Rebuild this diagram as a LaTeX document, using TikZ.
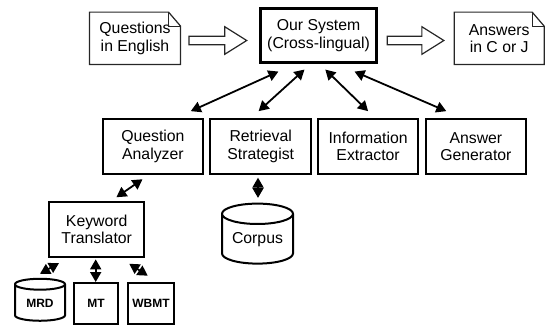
\documentclass[tikz,border=0pt]{standalone}
\usepackage{fontspec}
\setmainfont{Liberation Sans}
\usetikzlibrary{positioning,calc,shapes.geometric,arrows.meta}
\tikzset{
    box/.style={draw, line width=2pt, align=center, inner sep=0pt, minimum width=100.5pt, minimum height=54.5pt, font=\fontsize{15.8}{17.3}\selectfont},
    docnode/.style={align=center, inner sep=0pt, minimum width=90pt, minimum height=52pt, font=\fontsize{15.8}{17.3}\selectfont},
    doc/.style={draw=black!85, line width=1.2pt, line join=miter},
    drum/.style={cylinder, shape border rotate=90, draw, line width=2pt, aspect=0.4, inner sep=0pt, align=center},
    small/.style={draw, line width=2pt, inner sep=0pt, minimum width=44pt, minimum height=41pt, font=\fontsize{12}{13}\selectfont\bfseries},
    dbl/.style={{Triangle[length=10pt,width=11pt]}-{Triangle[length=10pt,width=11pt]}, line width=1.8pt},
    fat/.style={draw=black!85, line width=1.2pt, fill=white}
}
\newcommand{\fatarrow}[2]{%
    \draw[fat] let \p1=(#1), \p2=(#2) in (\x1,\y1+4.3pt) -- (\x2-22pt,\y1+4.3pt) -- (\x2-22pt,\y1+13.8pt) -- (\x2,\y1)
        -- (\x2-22pt,\y1-13.8pt) -- (\x2-22pt,\y1-4.3pt) -- (\x1,\y1-4.3pt) -- cycle;}
\newcommand{\docoutline}[1]{%
    \draw[doc] (#1.south west) -- (#1.north west) -- ([xshift=-12pt]#1.north east) -- ([yshift=-14pt]#1.north east) -- (#1.south east) -- cycle;
    \draw[doc, line width=0.7pt] ([xshift=-12pt]#1.north east) -- ([xshift=-12pt,yshift=-14pt]#1.north east) -- ([yshift=-14pt]#1.north east);}

\begin{document}
\begin{tikzpicture}[x=1pt, y=-1pt]
    \useasboundingbox (0,0) rectangle (545,327);
    % --- top row ---
    \node[docnode, minimum width=90.7pt] (qe) at (135, 38.3) {Questions\\in English};
    \node[box, line width=3pt, minimum width=115.8pt] (sys) at (318.6, 35.5) {Our System\\(Cross-lingual)};
    \node[docnode, minimum width=89.5pt] (ans) at (499.2, 38.3) {Answers\\in C or J};
    \docoutline{qe}
    \docoutline{ans}
    \fatarrow{[xshift=8.4pt,yshift=-2.2pt]qe.east}{[xshift=-12.5pt,yshift=-5pt]sys.west}
    \fatarrow{[xshift=9.3pt,yshift=-5pt]sys.east}{[xshift=-10.4pt,yshift=-2.2pt]ans.west}
    % --- modules ---
    \node[box] (qa) at (152.9, 146.4) {Question\\Analyzer};
    \node[box] (rs) at (260.7, 146.4) {Retrieval\\Strategist};
    \node[box] (ie) at (368.1, 146.4) {Information\\Extractor};
    \node[box] (ag) at (475.9, 146.4) {Answer\\Generator};
    \draw[dbl] ([xshift=-40.2pt,yshift=-7.3pt]sys.south) -- ([xshift=37.9pt,yshift=7pt]qa.north);
    \draw[dbl] ([xshift=-14.1pt,yshift=-5.3pt]sys.south) -- ([xshift=-2.1pt,yshift=7pt]rs.north);
    \draw[dbl] ([xshift=6.7pt,yshift=-5.3pt]sys.south) -- ([yshift=7pt]ie.north);
    \draw[dbl] ([xshift=35.9pt,yshift=-7.3pt]sys.south) -- ([xshift=-29.6pt,yshift=7pt]ag.north);
    % --- keyword translator and resources ---
    \node[box, minimum width=94.7pt] (kt) at (96.7, 229.5) {Keyword\\Translator};
    \node[drum, minimum width=71pt, minimum height=60pt, font=\fontsize{15.8}{17.3}\selectfont] (corpus) at (257.5, 239.2) {Corpus};
    \node[drum, minimum width=50pt, minimum height=42pt, font=\fontsize{12}{13}\selectfont\bfseries] (mrd) at (40, 303) {MRD};
    \node[small] (mt) at (96, 303.5) {MT};
    \node[small, minimum width=46pt] (wbmt) at (151, 303.5) {WBMT};
    \draw[dbl] ([xshift=-10.4pt,yshift=-4.6pt]qa.south) -- ([xshift=19.7pt,yshift=4pt]kt.north);
    \draw[dbl] ([xshift=-2.7pt,yshift=-3pt]rs.south) -- ([xshift=0.5pt,yshift=4.7pt]corpus.north);
    \draw[dbl] ([xshift=-37.7pt,yshift=-5.3pt]kt.south) -- ([yshift=4pt]mrd.north);
    \draw[dbl] ([xshift=-1pt,yshift=-1.6pt]kt.south) -- ([xshift=-0.3pt]mt.north);
    \draw[dbl] ([xshift=32.6pt,yshift=-6pt]kt.south) -- ([xshift=-3.3pt,yshift=6.3pt]wbmt.north);
\end{tikzpicture}
\end{document}
